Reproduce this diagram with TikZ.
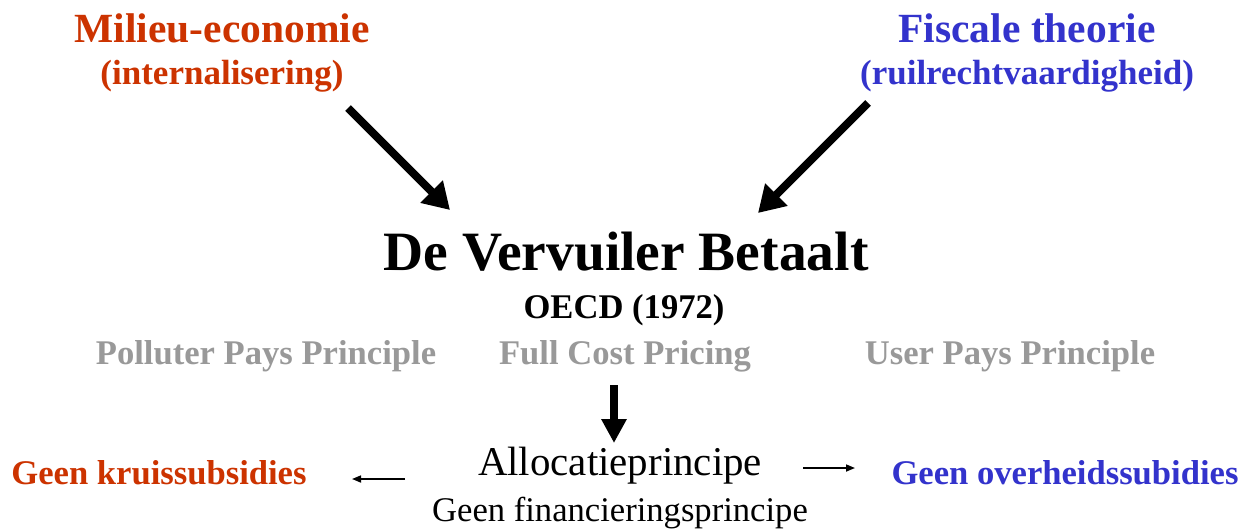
\documentclass[tikz,border=0pt]{standalone}
\usepackage{fontspec}
\setmainfont{Liberation Serif}
\usetikzlibrary{arrows.meta}
\definecolor{redc}{HTML}{CC3300}
\definecolor{bluec}{HTML}{3333CC}
\definecolor{grayc}{HTML}{999999}
\begin{document}
\begin{tikzpicture}[x=1pt,y=-1pt,
  lbl/.style={inner sep=0pt,anchor=center},
  big/.style={line width=8pt,-{Triangle[length=26pt,width=30pt]}},
  small/.style={line width=1.6pt,-{Triangle[length=9pt,width=7pt]}}]
\useasboundingbox (0,0) rectangle (1259,531);
\fill[white] (0,0) rectangle (1259,531);
\node[lbl,text=redc] (me) at (222,28) {\fontsize{41.5}{48}\selectfont\bfseries Milieu-economie};
\node[lbl,text=redc] (mi) at (222,76) {\fontsize{35}{40}\selectfont\bfseries (internalisering)};
\node[lbl,text=bluec] (ft) at (1027,28) {\fontsize{41.5}{48}\selectfont\bfseries Fiscale theorie};
\node[lbl,text=bluec] (fr) at (1027,76) {\fontsize{35}{40}\selectfont\bfseries (ruilrechtvaardigheid)};
\node[lbl] (dvb) at (626,252) {\fontsize{55.5}{64}\selectfont\bfseries De Vervuiler Betaalt};
\node[lbl] (oecd) at (624,310) {\fontsize{34.6}{40}\selectfont\bfseries OECD (1972)};
\node[lbl,text=grayc] (ppp) at (266,356) {\fontsize{34.6}{40}\selectfont\bfseries Polluter Pays Principle};
\node[lbl,text=grayc] (fcp) at (625,356) {\fontsize{34.6}{40}\selectfont\bfseries Full Cost Pricing};
\node[lbl,text=grayc] (upp) at (1010,356) {\fontsize{34.6}{40}\selectfont\bfseries User Pays Principle};
\node[lbl] (alloc) at (620,466) {\fontsize{40.9}{46}\selectfont Allocatieprincipe};
\node[lbl] (fin) at (620,513) {\fontsize{34.6}{40}\selectfont Geen financieringsprincipe};
\node[lbl,text=redc] (kruis) at (159,473) {\fontsize{34.6}{40}\selectfont\bfseries Geen kruissubsidies};
\node[lbl,text=bluec] (overh) at (1065,473) {\fontsize{34.6}{40}\selectfont\bfseries Geen overheidssubidies};
\coordinate (a1s) at (348,108); \coordinate (a1e) at (450,210);
\coordinate (a2s) at (868,103); \coordinate (a2e) at (758,213);
\coordinate (a3s) at (614,385); \coordinate (a3e) at (614,443);
\coordinate (a4s) at (405,479); \coordinate (a4e) at (352,479);
\coordinate (a5s) at (803,468); \coordinate (a5e) at (855,468);
\draw[big] (a1s) -- (a1e);
\draw[big] (a2s) -- (a2e);
\draw[line width=8pt,-{Triangle[length=24pt,width=24pt]}] (a3s) -- (a3e);
\draw[small] (a4s) -- (a4e);
\draw[small] (a5s) -- (a5e);
\end{tikzpicture}
\end{document}
